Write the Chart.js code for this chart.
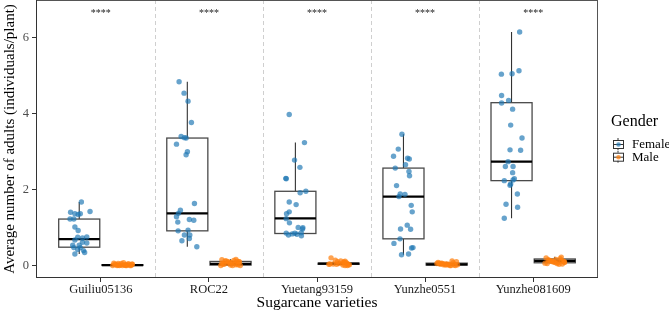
<!DOCTYPE html>
<html><head><meta charset="utf-8">
<script src="https://cdn.jsdelivr.net/npm/chart.js@4/dist/chart.umd.min.js"></script>
<style>html,body{margin:0;padding:0;background:#fff;overflow:hidden}</style>
</head><body>
<canvas id="c" width="669" height="312"></canvas>
<script>
// ---------- data ----------
const categories = ['Guiliu05136', 'ROC22', 'Yuetang93159', 'Yunzhe0551', 'Yunzhe081609'];
const genders = ['Female', 'Male'];
const yTicks = [0, 2, 4, 6];
const sigLabels = ['****', '****', '****', '****', '****'];

// female jittered points: values and horizontal jitter (category units)
const femaleValues = [
  [1.67,1.42,1.40,1.36,1.36,1.34,1.22,1.22,1.01,0.92,0.75,0.74,0.72,0.67,0.61,0.59,0.53,0.53,0.47,0.47,0.42,0.39,0.34,0.30],
  [4.83,4.53,4.32,3.76,3.39,3.36,3.35,3.19,2.99,2.91,1.63,1.45,1.37,1.28,1.21,1.19,1.14,0.91,0.93,0.80,0.80,0.71,0.65,0.49],
  [3.97,3.23,2.77,2.58,2.29,2.28,1.91,1.95,1.67,1.60,1.41,1.36,1.23,1.12,1.00,0.99,0.96,0.85,0.80,0.85,0.82,0.78,0.86,0.83],
  [3.45,3.06,2.87,2.82,2.80,2.65,2.56,2.47,2.36,2.10,1.88,1.87,1.81,1.58,1.41,1.06,0.96,0.95,0.70,0.58,0.46,0.47,0.28,0.30],
  [6.14,5.12,5.03,5.04,4.47,4.27,4.34,4.11,3.69,3.35,3.04,3.03,2.73,2.60,2.60,2.44,2.28,2.25,2.23,2.14,2.11,1.88,1.61,1.53,1.24]
];
const femaleJitter = [
  [0.02,0.10,-0.08,-0.04,0.01,-0.01,-0.085,-0.05,-0.04,-0.01,0.07,-0.014,0.03,-0.04,0.03,0.07,-0.06,0.0,-0.05,0.01,-0.014,0.04,0.05,-0.04],
  [-0.076,-0.03,0.007,0.038,-0.057,-0.027,-0.011,-0.10,0.001,-0.011,0.066,-0.064,-0.082,-0.10,0.019,0.06,-0.088,-0.085,0.007,-0.027,0.023,0.019,-0.05,0.088],
  [-0.057,0.084,-0.008,0.042,-0.088,-0.085,0.044,0.097,-0.057,0.007,-0.057,-0.082,-0.085,-0.055,0.026,0.069,0.066,-0.085,-0.064,-0.005,0.014,0.056,0.054,-0.03],
  [-0.014,-0.048,-0.092,0.038,0.054,0.019,-0.076,0.051,0.056,-0.064,-0.03,0.014,-0.042,0.072,0.081,0.035,-0.027,0.066,-0.032,-0.088,0.075,0.088,-0.018,0.047],
  [0.075,0.069,-0.094,0.005,-0.092,-0.092,-0.027,0.01,-0.008,0.097,-0.014,0.084,-0.032,-0.057,0.014,0.01,0.026,0.014,-0.067,-0.008,-0.014,0.054,-0.051,0.056,-0.067]
];
// male jittered points
const maleValues = [
  [0.00,0.03,0.00,0.05,0.01,0.00,0.07,0.02,0.00,0.04,0.00,0.03,0.06,0.00,0.01,0.04,0.00,0.02,0.05,0.00,0.03,0.01],
  [0.15,0.12,0.10,0.08,0.05,0.02,0.00,0.00,0.03,0.13,0.11,0.06,0.01,0.09,0.16,0.04,0.00,0.07,0.12,0.02,0.10,0.05],
  [0.20,0.14,0.12,0.08,0.05,0.03,0.00,0.02,0.06,0.10,0.04,0.01,0.07,0.03,0.05,0.00,0.09,0.02,0.11,0.04],
  [0.08,0.06,0.04,0.02,0.00,0.01,0.10,0.05,0.03,0.00,0.07,0.02,0.04,0.12,0.00,0.06,0.03,0.01,0.05,0.02],
  [0.20,0.15,0.12,0.10,0.08,0.05,0.03,0.14,0.11,0.09,0.06,0.18,0.13,0.07,0.10,0.04,0.16,0.12,0.08,0.22,0.05]
];
const maleJitter = [
  [-0.09,-0.07,-0.05,-0.04,-0.02,0.0,0.01,0.03,0.04,0.06,0.08,0.09,-0.08,-0.03,0.02,0.05,0.07,-0.06,-0.01,0.03,0.09,-0.04],
  [-0.08,-0.05,-0.02,0.01,0.04,0.07,0.09,-0.09,-0.06,0.03,0.06,-0.03,0.0,0.08,0.05,-0.07,0.02,-0.01,-0.04,0.05,0.08,-0.08],
  [-0.07,-0.03,0.02,0.05,0.08,-0.09,0.06,0.09,0.03,-0.01,-0.05,0.04,0.07,-0.02,0.0,0.08,0.05,0.1,0.06,-0.08],
  [-0.08,-0.05,-0.02,0.01,0.04,0.07,0.09,-0.09,-0.06,0.03,0.06,-0.03,0.0,0.05,0.08,-0.07,0.02,-0.01,-0.04,0.1],
  [-0.08,-0.06,-0.04,-0.02,0.0,0.02,0.04,0.06,0.08,0.09,-0.09,0.05,-0.05,0.03,-0.01,0.07,0.01,-0.03,0.09,0.06,-0.07]
];
// box statistics
const femaleLow    = [0.30, 0.49, 0.78, 0.28, 1.24];
const femaleQ1     = [0.48, 0.91, 0.84, 0.70, 2.23];
const femaleMedian = [0.69, 1.37, 1.24, 1.81, 2.73];
const femaleQ3     = [1.22, 3.35, 1.95, 2.56, 4.28];
const femaleHigh   = [1.67, 4.83, 3.23, 3.45, 6.14];
const maleLow      = [0.00, 0.00, 0.00, 0.00, 0.03];
const maleQ1       = [0.00, 0.01, 0.03, 0.01, 0.07];
const maleMedian   = [0.01, 0.04, 0.05, 0.03, 0.12];
const maleQ3       = [0.02, 0.105, 0.06, 0.06, 0.17];
const maleHigh     = [0.07, 0.16, 0.12, 0.10, 0.23];

// ---------- styling ----------
const SERIF = '"Liberation Serif", "Times New Roman", serif';
const COLORS = ['rgba(31,119,180,0.68)', 'rgba(255,127,14,0.72)'];
const DODGE = 0.2, HALF_BOX = 0.19;
const SIG_Y = 6.67;

function buildPoints(vals, jit, shift) {
  const out = [];
  vals.forEach((arr, i) => arr.forEach((v, k) => out.push({ x: i + 1 + shift + jit[i][k], y: v })));
  return out;
}

const boxes = [
  { shift: -DODGE, low: femaleLow, q1: femaleQ1, med: femaleMedian, q3: femaleQ3, high: femaleHigh },
  { shift: DODGE, low: maleLow, q1: maleQ1, med: maleMedian, q3: maleQ3, high: maleHigh }
];

const boxPlugin = {
  id: 'boxes',
  beforeDatasetsDraw(chart) {
    const { ctx, chartArea: a, scales: { x, y } } = chart;
    ctx.save();
    // dashed separators
    ctx.strokeStyle = '#cfcfcf'; ctx.lineWidth = 1; ctx.setLineDash([4, 3]);
    for (let i = 1; i < categories.length; i++) {
      const px = Math.round(x.getPixelForValue(i + 0.5)) + 0.5;
      ctx.beginPath(); ctx.moveTo(px, a.top); ctx.lineTo(px, a.bottom); ctx.stroke();
    }
    ctx.setLineDash([]);
    boxes.forEach(b => {
      categories.forEach((c, i) => {
        const cx = x.getPixelForValue(i + 1 + b.shift);
        const l = x.getPixelForValue(i + 1 + b.shift - HALF_BOX);
        const r = x.getPixelForValue(i + 1 + b.shift + HALF_BOX);
        const yl = y.getPixelForValue(b.low[i]), y1 = y.getPixelForValue(b.q1[i]);
        const ym = y.getPixelForValue(b.med[i]), y3 = y.getPixelForValue(b.q3[i]);
        const yh = y.getPixelForValue(b.high[i]);
        ctx.strokeStyle = '#333'; ctx.lineWidth = 1.1;
        ctx.beginPath();
        ctx.moveTo(cx, yh); ctx.lineTo(cx, y3);
        ctx.moveTo(cx, y1); ctx.lineTo(cx, yl);
        ctx.stroke();
        ctx.fillStyle = '#fff';
        ctx.fillRect(l, y3, r - l, y1 - y3);
        ctx.strokeStyle = '#4a4a4a'; ctx.lineWidth = 1.3;
        ctx.strokeRect(l, y3, r - l, y1 - y3);
        ctx.strokeStyle = '#000'; ctx.lineWidth = 2.2;
        ctx.beginPath(); ctx.moveTo(l, ym); ctx.lineTo(r, ym); ctx.stroke();
      });
    });
    ctx.restore();
  },
  afterDatasetsDraw(chart) {
    const { ctx, chartArea: a, scales: { x, y } } = chart;
    ctx.save();
    // panel border
    ctx.strokeStyle = '#555'; ctx.lineWidth = 1;
    ctx.strokeRect(Math.round(a.left) + 0.5, Math.round(a.top) + 0.5, Math.round(a.right - a.left) - 1, Math.round(a.bottom - a.top) - 1);
    ctx.strokeStyle = '#333';
    ctx.beginPath();
    ctx.moveTo(Math.round(a.left) + 0.5, a.top); ctx.lineTo(Math.round(a.left) + 0.5, a.bottom);
    ctx.moveTo(a.left, Math.round(a.bottom) - 0.5); ctx.lineTo(a.right, Math.round(a.bottom) - 0.5);
    ctx.stroke();
    // significance labels
    ctx.fillStyle = '#222'; ctx.font = '10px ' + SERIF;
    ctx.textAlign = 'center'; ctx.textBaseline = 'middle';
    sigLabels.forEach((s, i) => ctx.fillText(s, x.getPixelForValue(i + 1), y.getPixelForValue(SIG_Y) + 2));
    ctx.restore();
  },
  afterDraw(chart) {
    const { ctx } = chart;
    ctx.save();
    ctx.fillStyle = '#000'; ctx.textBaseline = 'middle'; ctx.textAlign = 'left';
    ctx.font = '16px ' + SERIF;
    ctx.fillText('Gender', 611, 122);
    ctx.font = '13px ' + SERIF;
    genders.forEach((g, k) => {
      const cy = 144 + k * 12.7;
      const lx = 613, w = 10, h = 8;
      ctx.strokeStyle = '#333'; ctx.lineWidth = 1;
      ctx.beginPath(); ctx.moveTo(lx + w / 2, cy - 6); ctx.lineTo(lx + w / 2, cy + 6); ctx.stroke();
      ctx.fillStyle = '#fff'; ctx.fillRect(lx, cy - h / 2, w, h);
      ctx.strokeRect(lx + 0.5, cy - h / 2 + 0.5, w, h);
      ctx.beginPath(); ctx.moveTo(lx, cy + 0.5); ctx.lineTo(lx + w + 1, cy + 0.5); ctx.stroke();
      ctx.fillStyle = COLORS[k];
      ctx.beginPath(); ctx.arc(lx + w / 2 + 0.5, cy + 0.5, 2.3, 0, Math.PI * 2); ctx.fill();
      ctx.fillStyle = '#000';
      ctx.fillText(g, 632, cy + 1);
    });
    ctx.restore();
  }
};

new Chart(document.getElementById('c'), {
  type: 'scatter',
  data: {
    datasets: [
      { label: genders[0], data: buildPoints(femaleValues, femaleJitter, -DODGE), backgroundColor: COLORS[0], borderWidth: 0, pointRadius: 2.7 },
      { label: genders[1], data: buildPoints(maleValues, maleJitter, DODGE), backgroundColor: COLORS[1], borderWidth: 0, pointRadius: 2.7 }
    ]
  },
  options: {
    responsive: false, animation: false, devicePixelRatio: 1,
    events: [],
    layout: { autoPadding: false, padding: { top: 0, right: 71, left: 0, bottom: 0 } },
    plugins: { legend: { display: false }, tooltip: { enabled: false } },
    scales: {
      x: {
        type: 'linear', min: 0.4, max: 5.6,
        afterBuildTicks: s => { s.ticks = categories.map((c, i) => ({ value: i + 1 })); },
        afterFit: s => { s.height = 34; s.paddingLeft = 0; s.paddingRight = 0; },
        ticks: { callback: (v, i) => categories[i], font: { family: SERIF, size: 12.5 }, color: '#1a1a1a', padding: 0, autoSkip: false, maxRotation: 0 },
        grid: { drawOnChartArea: false, drawTicks: true, tickLength: 4, color: '#333' },
        border: { display: false },
        title: { display: true, text: 'Sugarcane varieties', font: { family: SERIF, size: 15.5 }, color: '#000', padding: { top: 0, bottom: 0 } }
      },
      y: {
        type: 'linear', min: -0.33, max: 6.98,
        afterBuildTicks: s => { s.ticks = yTicks.map(v => ({ value: v })); },
        afterFit: s => { s.width = 36; s.paddingTop = 0; s.paddingBottom = 0; },
        ticks: { font: { family: SERIF, size: 12.5 }, color: '#4d4d4d', padding: 3 },
        grid: { drawOnChartArea: false, drawTicks: true, tickLength: 4, color: '#333' },
        border: { display: false },
        title: { display: true, text: 'Average number of adults (individuals/plant)', font: { family: SERIF, size: 15 }, color: '#000', padding: { top: 1, bottom: 0 } }
      }
    }
  },
  plugins: [boxPlugin]
});
</script>
</body></html>
